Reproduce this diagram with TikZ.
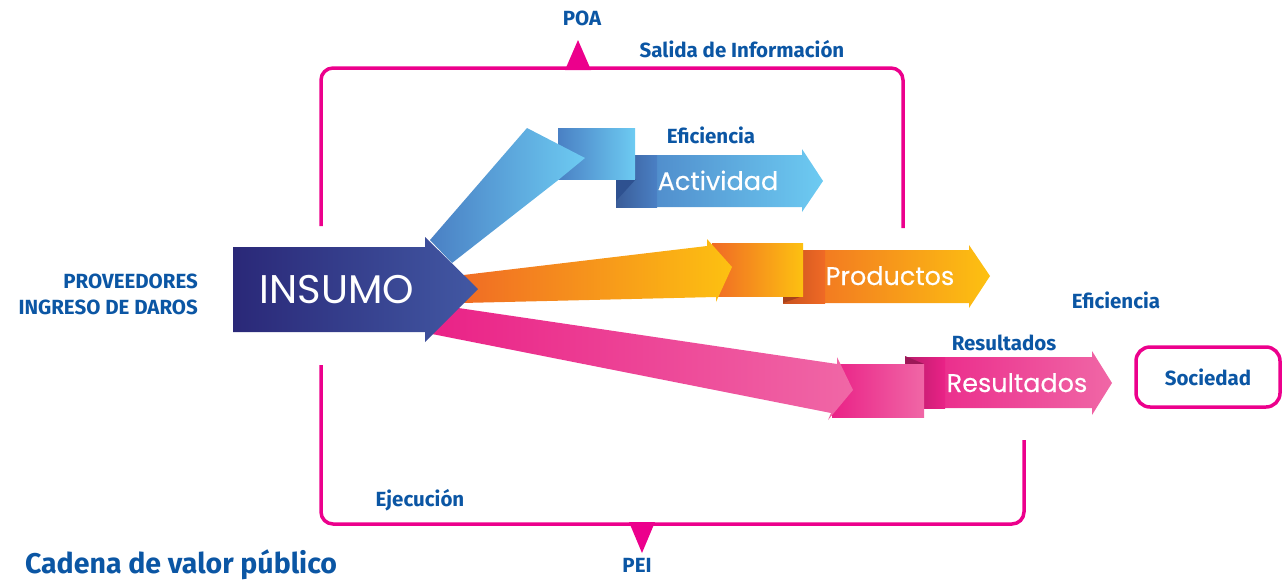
\documentclass[tikz,border=0pt]{standalone}
\usepackage{fontspec}
\newfontfamily\lblfont{Fira Sans}
\newfontfamily\arrfont{Poppins}[FakeBold=0.3]
\newfontfamily\insfont{Poppins}

\definecolor{cvpink}{HTML}{EC008C}
\definecolor{cvblue}{HTML}{0B56A4}
\definecolor{inA}{HTML}{2A2878}
\definecolor{inB}{HTML}{4258A3}
\definecolor{azA}{HTML}{4A80C4}
\definecolor{azB}{HTML}{6DCBF2}
\definecolor{azD}{HTML}{3A5C98}
\definecolor{azF}{HTML}{2E5190}
\definecolor{orA}{HTML}{F06A25}
\definecolor{orB}{HTML}{FDC111}
\definecolor{orD}{HTML}{C9521F}
\definecolor{orF}{HTML}{A8421A}
\definecolor{pkA}{HTML}{EA2287}
\definecolor{pkB}{HTML}{F067A6}
\definecolor{pkD}{HTML}{B81C6A}
\definecolor{pkF}{HTML}{9C1858}

\begin{document}
\begin{tikzpicture}[x=1pt,y=-1pt]
	\tikzset{cvlabel/.style={text=cvblue, inner sep=0pt, anchor=base,
				font=\lblfont\bfseries\fontsize{20.5}{26}\selectfont}}
	\tikzset{cvwhite/.style={text=white, inner sep=0pt, anchor=base,
				font=\arrfont\fontsize{25.5}{28}\selectfont}}
	\tikzset{cvline/.style={draw=cvpink, line width=3.5pt, rounded corners=12pt}}
	\tikzset{cvbox/.style={draw=cvpink, line width=3.5pt, rounded corners=14pt,
				minimum width=144pt, minimum height=60pt}}

	\useasboundingbox (0,0) rectangle (1285,579);

	% marcos
	\draw[cvline] (321,226) -- (321,68) -- (903,68) -- (903,228);
	\fill[cvpink] (565,70) -- (578,40) -- (591,70) -- cycle;
	\draw[cvline] (321,365) -- (321,524) -- (1024,524) -- (1024,440);
	\fill[cvpink] (629,522) -- (642,553) -- (655,522) -- cycle;

	% rama azul
	\shade[left color=azA, right color=azB] (616,155) -- (802,155) -- (802,149)
		-- (823,181) -- (802,212) -- (802,207) -- (616,207) -- cycle;
	\shade[left color=azD, right color=azA] (616,155) rectangle (657,207);
	\fill[azF] (616,179) -- (636,179) -- (616,201) -- cycle;
	\shade[left color=azA, right color=azB] (558,128) rectangle (635,179);
	\shade[left color=azA, right color=azB] (430,240) -- (527,128) -- (585,158)
		-- (557,181) -- (452,263) -- cycle;

	% rama naranja
	\shade[left color=orA, right color=orB] (783,250) -- (969,250) -- (969,245)
		-- (990,276) -- (969,308) -- (969,303) -- (783,303) -- cycle;
	\shade[left color=orD, right color=orA] (783,250) rectangle (825,303);
	\fill[orF] (783,296) -- (803,296) -- (783,303) -- cycle;
	\shade[left color=orA, right color=orB] (712,243) rectangle (803,296);
	\shade[left color=orA, right color=orB] (455,276) -- (707,246) -- (707,239)
		-- (732,267) -- (716,302) -- (716,297) -- (462,303) -- cycle;

	% rama rosa
	\shade[left color=pkA, right color=pkB] (905,357) -- (1092,357) -- (1092,351)
		-- (1112,383) -- (1092,415) -- (1092,408) -- (905,408) -- cycle;
	\shade[left color=pkD, right color=pkA] (905,357) rectangle (945,408);
	\fill[pkF] (905,356) -- (924,364) -- (905,364) -- cycle;
	\shade[left color=pkA, right color=pkB] (832,364) rectangle (924,417);
	\shade[left color=pkA, right color=pkB] (445,306) -- (837,364) -- (837,357)
		-- (853,390) -- (828,420) -- (831,413) -- (432,334) -- cycle;

	% insumo
	\shade[left color=inA, right color=inB] (233,247) -- (425,247) -- (425,237)
		-- (478,289) -- (425,342) -- (425,332) -- (233,332) -- cycle;

	\node[cvwhite, font=\insfont\fontsize{40}{44}\selectfont] (insumo) at (337,303) {INSUMO};
	\node[cvwhite] (actividad) at (718,190) {Actividad};
	\node[cvwhite] (productos) at (890,285) {Productos};
	\node[cvwhite] (resultados) at (1017,392) {Resultados};

	\node[cvlabel] (poa) at (582,25) {POA};
	\node[cvlabel] (salida) at (742,57) {Salida de Información};
	\node[cvlabel] (efic1) at (711,143) {Eficiencia};
	\node[cvlabel, anchor=east, align=right] (prov) at (198,294) {PROVEEDORES\\INGRESO DE DAROS};
	\node[cvlabel] (efic2) at (1116,308) {Eficiencia};
	\node[cvlabel] (reslbl) at (1004,350) {Resultados};
	\node[cvbox, cvlabel, anchor=center] (sociedad) at (1208,377) {Sociedad};
	\node[cvlabel] (ejec) at (420,506) {Ejecución};
	\node[cvlabel] (pei) at (637,572) {PEI};
	\node[cvlabel, font=\lblfont\bfseries\fontsize{28.5}{32}\selectfont] (titulo) at (181,573) {Cadena de valor público};
\end{tikzpicture}
\end{document}
